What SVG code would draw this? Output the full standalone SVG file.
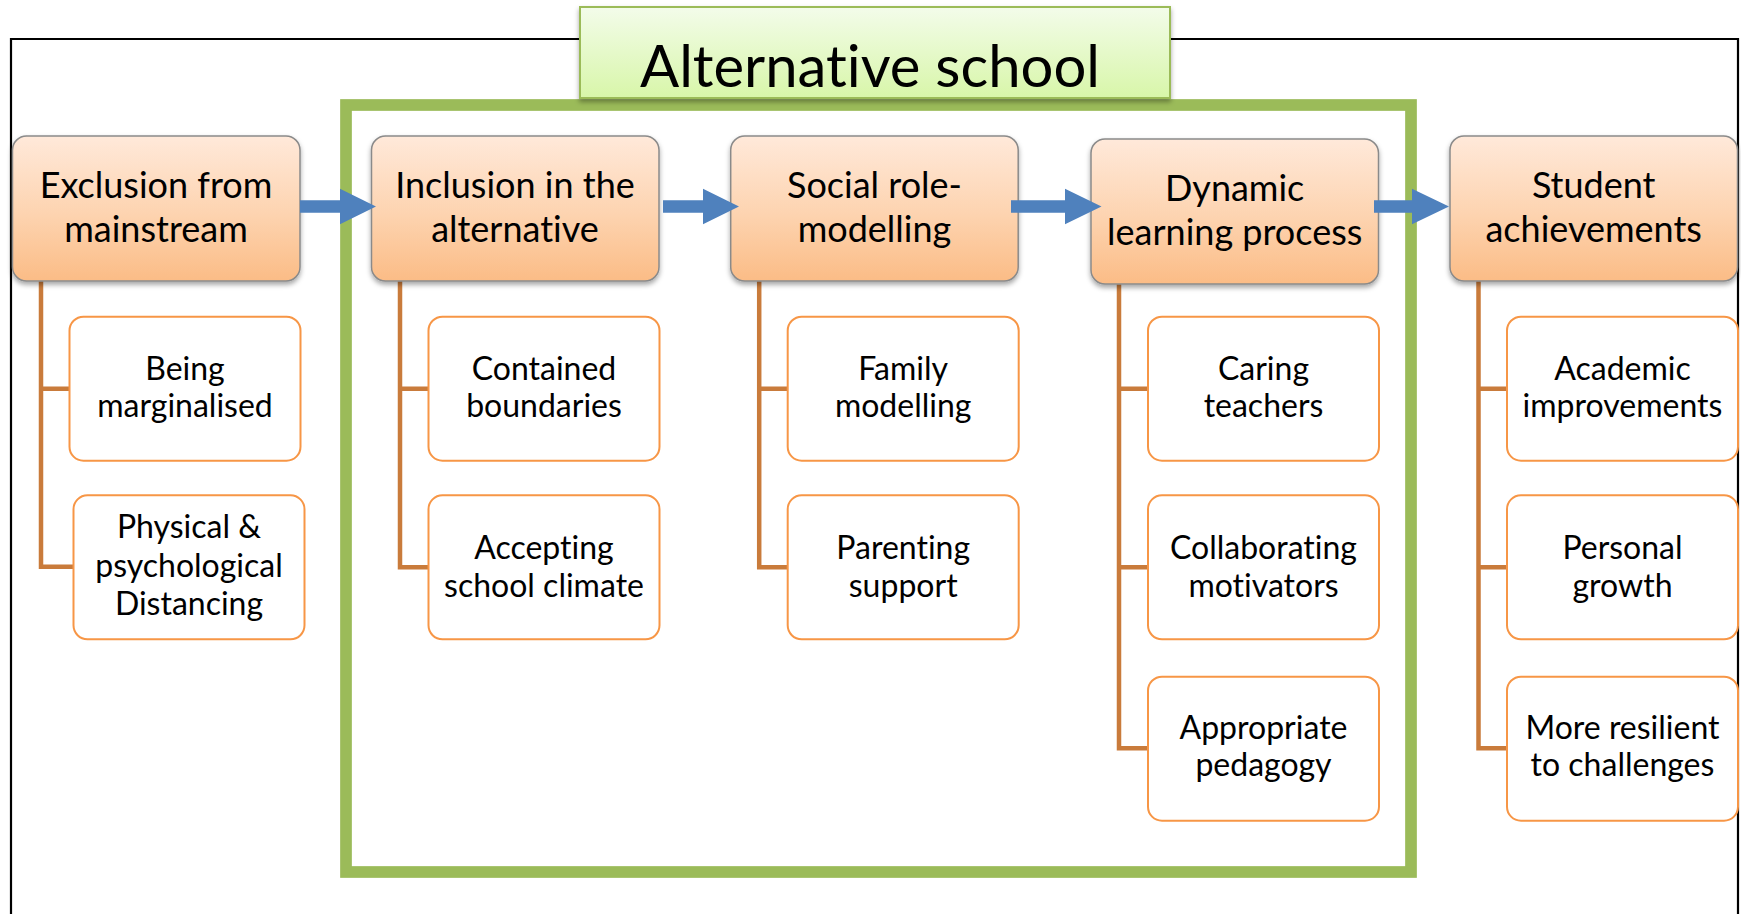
<svg xmlns="http://www.w3.org/2000/svg" width="1741" height="914" viewBox="0 0 1741 914">
<defs>
<linearGradient id="mainGrad" x1="0" y1="0" x2="0" y2="1">
<stop offset="0" stop-color="#FFE9DA"/>
<stop offset="0.55" stop-color="#FDD3AF"/>
<stop offset="1" stop-color="#FBBC86"/>
</linearGradient>
<linearGradient id="titleGrad" x1="0" y1="0" x2="0" y2="1">
<stop offset="0" stop-color="#F3FCEA"/>
<stop offset="1" stop-color="#D8F6A9"/>
</linearGradient>
<filter id="shadow" x="-10%" y="-10%" width="120%" height="130%">
<feDropShadow dx="0" dy="3" stdDeviation="2.5" flood-color="#000" flood-opacity="0.35"/>
</filter>
</defs>
<style>
.main{fill:url(#mainGrad);stroke:#8A8A8A;stroke-width:1.5;filter:url(#shadow)}
.sub{fill:#fff;stroke:#F79646;stroke-width:2}
.conn{fill:none;stroke:#C97B3B;stroke-width:4.5;stroke-linejoin:miter}
.arrow{fill:#4F81BD}
text{font-family:Lato,"Open Sans","DejaVu Sans",sans-serif;fill:#000;text-anchor:middle;font-variant-ligatures:none}
.mt{font-size:36px}
.st{font-size:32px}
.tt{font-size:58px}
</style>

<g id="outer-frame">
<path d="M11,920 V39 H1738 V920" fill="none" stroke="#000" stroke-width="2.2"/>
</g>

<g id="alternative-frame">
<rect x="346" y="105" width="1065" height="767" fill="none" stroke="#9BBB59" stroke-width="11.7"/>
</g>

<g id="title">
<rect x="580" y="7" width="590" height="91" fill="url(#titleGrad)" stroke="#9BBB59" stroke-width="2" filter="url(#shadow)"/>
<text class="tt" x="870" y="87">Alternative school</text>
</g>

<g id="connectors">
<path class="conn" d="M41,281 V566.7 H73.5 M41,388.7 H69.5"/>
<path class="conn" d="M400,281 V567.3 H428.5 M400,388.7 H428.5"/>
<path class="conn" d="M759.2,281 V567.3 H787.7 M759.2,388.7 H787.7"/>
<path class="conn" d="M1119,284 V748.3 H1148 M1119,388.7 H1148 M1119,567.3 H1148"/>
<path class="conn" d="M1478.5,281 V748.3 H1507 M1478.5,388.7 H1507 M1478.5,567.3 H1507"/>
</g>

<g id="node-exclusion">
<rect class="main" x="12.5" y="136" width="287.5" height="145" rx="14"/>
<text class="mt" x="156" y="198.3">Exclusion from</text>
<text class="mt" x="156" y="241.7">mainstream</text>
</g>
<g id="node-inclusion">
<rect class="main" x="371.5" y="136" width="287.5" height="145" rx="14"/>
<text class="mt" x="515" y="198.3">Inclusion in the</text>
<text class="mt" x="515" y="241.7">alternative</text>
</g>
<g id="node-social">
<rect class="main" x="730.7" y="136" width="287.5" height="145" rx="14"/>
<text class="mt" x="874.5" y="198.3">Social role-</text>
<text class="mt" x="874.5" y="241.7">modelling</text>
</g>
<g id="node-dynamic">
<rect class="main" x="1091" y="139" width="287.5" height="145" rx="14"/>
<text class="mt" x="1234.7" y="201">Dynamic</text>
<text class="mt" x="1234.7" y="245">learning process</text>
</g>
<g id="node-student">
<rect class="main" x="1450" y="136" width="287.5" height="145" rx="14"/>
<text class="mt" x="1593.7" y="198.3">Student</text>
<text class="mt" x="1593.7" y="241.7">achievements</text>
</g>

<g id="sub-being-marginalised">
<rect class="sub" x="69.5" y="316.7" width="231" height="144" rx="14"/>
<text class="st" x="185" y="380">Being</text>
<text class="st" x="185" y="417.3">marginalised</text>
</g>
<g id="sub-physical-distancing">
<rect class="sub" x="73.5" y="495.3" width="231" height="144" rx="14"/>
<text class="st" x="189" y="538.3">Physical &amp;</text>
<text class="st" x="189" y="576.5">psychological</text>
<text class="st" x="189" y="615">Distancing</text>
</g>
<g id="sub-contained-boundaries">
<rect class="sub" x="428.5" y="316.7" width="231" height="144" rx="14"/>
<text class="st" x="544" y="380">Contained</text>
<text class="st" x="544" y="417.3">boundaries</text>
</g>
<g id="sub-accepting-climate">
<rect class="sub" x="428.5" y="495.3" width="231" height="144" rx="14"/>
<text class="st" x="544" y="559">Accepting</text>
<text class="st" x="544" y="596.5">school climate</text>
</g>
<g id="sub-family-modelling">
<rect class="sub" x="787.7" y="316.7" width="231" height="144" rx="14"/>
<text class="st" x="903.2" y="380">Family</text>
<text class="st" x="903.2" y="417.3">modelling</text>
</g>
<g id="sub-parenting-support">
<rect class="sub" x="787.7" y="495.3" width="231" height="144" rx="14"/>
<text class="st" x="903.2" y="559">Parenting</text>
<text class="st" x="903.2" y="596.5">support</text>
</g>
<g id="sub-caring-teachers">
<rect class="sub" x="1148" y="316.7" width="231" height="144" rx="14"/>
<text class="st" x="1263.5" y="380">Caring</text>
<text class="st" x="1263.5" y="417.3">teachers</text>
</g>
<g id="sub-collaborating-motivators">
<rect class="sub" x="1148" y="495.3" width="231" height="144" rx="14"/>
<text class="st" x="1263.5" y="559">Collaborating</text>
<text class="st" x="1263.5" y="596.5">motivators</text>
</g>
<g id="sub-appropriate-pedagogy">
<rect class="sub" x="1148" y="676.7" width="231" height="144" rx="14"/>
<text class="st" x="1263.5" y="738.5">Appropriate</text>
<text class="st" x="1263.5" y="776">pedagogy</text>
</g>
<g id="sub-academic-improvements">
<rect class="sub" x="1507" y="316.7" width="231" height="144" rx="14"/>
<text class="st" x="1622.5" y="380">Academic</text>
<text class="st" x="1622.5" y="417.3">improvements</text>
</g>
<g id="sub-personal-growth">
<rect class="sub" x="1507" y="495.3" width="231" height="144" rx="14"/>
<text class="st" x="1622.5" y="559">Personal</text>
<text class="st" x="1622.5" y="596.5">growth</text>
</g>
<g id="sub-more-resilient">
<rect class="sub" x="1507" y="676.7" width="231" height="144" rx="14"/>
<text class="st" x="1622.5" y="738.5">More resilient</text>
<text class="st" x="1622.5" y="776">to challenges</text>
</g>

<g id="arrows">
<polygon class="arrow" points="300,200.2 340,200.2 340,188.7 376,206.5 340,224.3 340,212.8 300,212.8"/>
<polygon class="arrow" points="663,200.2 703,200.2 703,188.7 739,206.5 703,224.3 703,212.8 663,212.8"/>
<polygon class="arrow" points="1011,200.2 1065,200.2 1065,188.7 1101.5,206.5 1065,224.3 1065,212.8 1011,212.8"/>
<polygon class="arrow" points="1374,200.2 1412,200.2 1412,188.7 1449,206.5 1412,224.3 1412,212.8 1374,212.8"/>
</g>
</svg>
